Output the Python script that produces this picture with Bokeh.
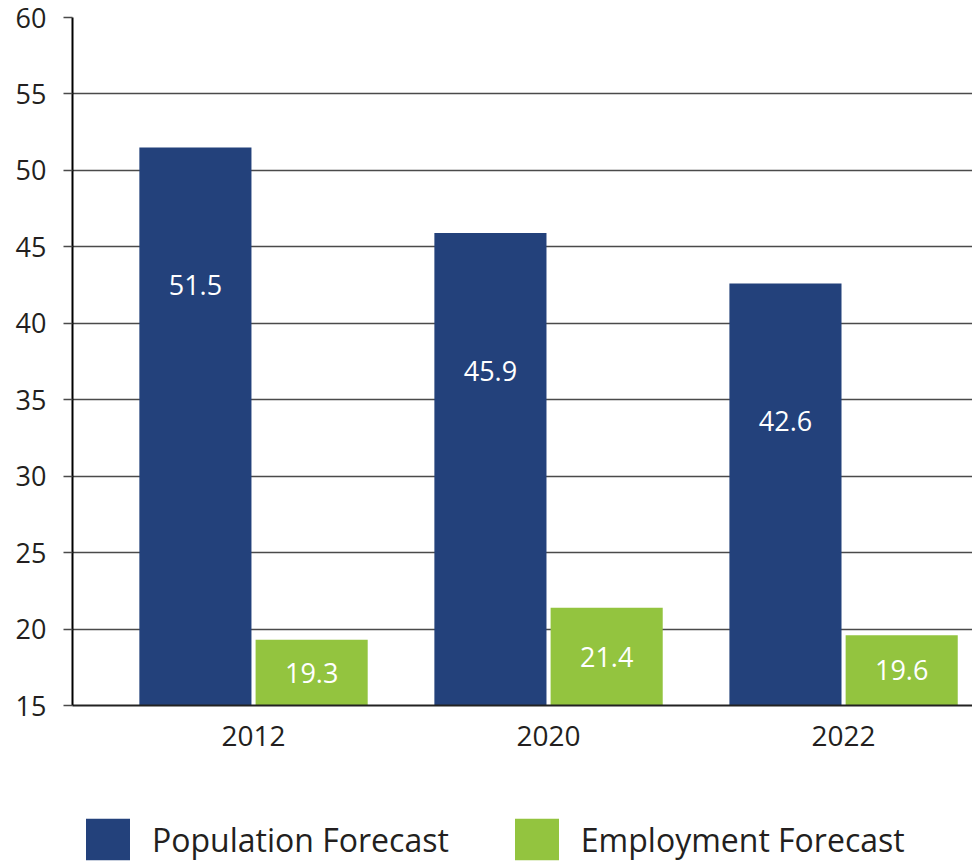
from bokeh.plotting import figure
from bokeh.layouts import column
from bokeh.models import ColumnDataSource, FixedTicker, Legend, LegendItem, Range1d
from bokeh.core.properties import value
from bokeh.embed import file_html
from bokeh.resources import INLINE

years = ["2012", "2020", "2022"]
population = [51.5, 45.9, 42.6]
employment = [19.3, 21.4, 19.6]
y_ticks = [15, 20, 25, 30, 35, 40, 45, 50, 55, 60]
series_names = ["Population Forecast", "Employment Forecast"]

BLUE = "#23417B"
GREEN = "#93C43F"
TEXT = "#231F20"
FONT = "Open Sans"

xs = list(range(len(years)))
offset = 0.197
bar_w = 0.38
y_base = 15

src = ColumnDataSource(dict(
    x=xs,
    xb=[x - offset for x in xs],
    xg=[x + offset for x in xs],
    pop=population,
    emp=employment,
    pop_lbl=[f"{v:.1f}" for v in population],
    emp_lbl=[f"{v:.1f}" for v in employment],
    pop_y=[v - 9 for v in population],
    emp_y=[(y_base + v) / 2 for v in employment],
))

p = figure(width=972, height=780, output_backend="svg", toolbar_location=None,
           x_range=Range1d(-0.6136, 2.437), y_range=Range1d(15, 60),
           min_border_left=72, min_border_right=0, min_border_top=17,
           min_border_bottom=75)
p.outline_line_color = None

rb = p.vbar(x="xb", top="pop", bottom=y_base, width=bar_w, source=src,
            fill_color=BLUE, line_color=None)
rg = p.vbar(x="xg", top="emp", bottom=y_base, width=bar_w, source=src,
            fill_color=GREEN, line_color=None)

p.text(x="xb", y="pop_y", text="pop_lbl", source=src, text_color="white",
       text_font=value(FONT), text_font_size="27px", text_align="center",
       text_baseline="middle")
p.text(x="xg", y="emp_y", text="emp_lbl", source=src, text_color="white",
       text_font=value(FONT), text_font_size="27px", text_align="center",
       text_baseline="middle")

p.xgrid.grid_line_color = None
p.ygrid.grid_line_color = "#4a4a4a"
p.ygrid.grid_line_width = 1.3
p.ygrid.ticker = FixedTicker(ticks=y_ticks)

p.yaxis.ticker = FixedTicker(ticks=y_ticks)
p.yaxis.axis_line_color = "black"
p.yaxis.axis_line_width = 2
p.yaxis.major_tick_in = 0
p.yaxis.major_tick_out = 9
p.yaxis.major_tick_line_color = "#4a4a4a"
p.yaxis.major_tick_line_width = 1.3
p.yaxis.minor_tick_line_color = None
p.yaxis.major_label_standoff = 17
p.yaxis.major_label_text_font = FONT
p.yaxis.major_label_text_font_size = "27px"
p.yaxis.major_label_text_color = TEXT

p.xaxis.ticker = FixedTicker(ticks=xs)
p.xaxis.major_label_overrides = {x: y for x, y in zip(xs, years)}
p.xaxis.axis_line_color = "#222222"
p.xaxis.axis_line_width = 2
p.xaxis.major_tick_line_color = None
p.xaxis.minor_tick_line_color = None
p.xaxis.major_tick_out = 0
p.xaxis.major_tick_in = 0
p.xaxis.major_label_standoff = 20
p.xaxis.major_label_text_font = FONT
p.xaxis.major_label_text_font_size = "28px"
p.xaxis.major_label_text_color = TEXT

# legend strip
lg = figure(width=972, height=81, output_backend="svg", toolbar_location=None,
            x_range=Range1d(0, 1), y_range=Range1d(0, 1),
            min_border=0, x_axis_type=None, y_axis_type=None)
lg.outline_line_color = None
lg.xgrid.grid_line_color = None
lg.ygrid.grid_line_color = None
db = lg.vbar(x=[-10], top=[-10], bottom=[-11], width=0.1, fill_color=BLUE, line_color=None)
dg = lg.vbar(x=[-10], top=[-10], bottom=[-11], width=0.1, fill_color=GREEN, line_color=None)

legend = Legend(items=[LegendItem(label=series_names[0], renderers=[db]),
                       LegendItem(label=series_names[1], renderers=[dg])],
                orientation="horizontal", location=(8, -4),
                glyph_width=55, glyph_height=52, label_standoff=17, spacing=60,
                padding=0, margin=0, border_line_color=None,
                background_fill_alpha=0, label_text_font=FONT,
                label_text_font_size="32px", label_text_color=TEXT,
                label_height=52)
lg.add_layout(legend, "center")

layout = column(p, lg, spacing=0)
open("out.html", "w").write(file_html(layout, INLINE))
